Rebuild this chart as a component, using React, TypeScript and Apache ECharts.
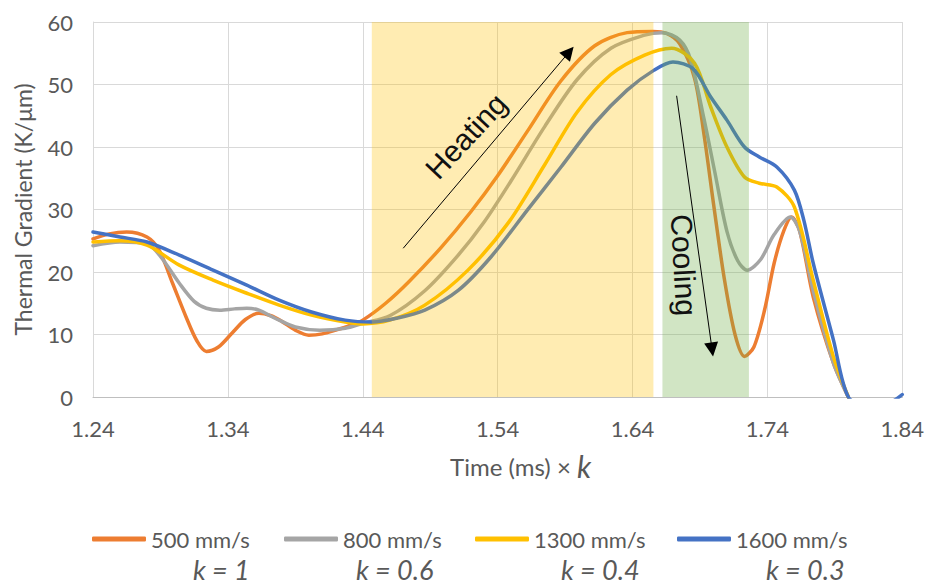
import React, { useEffect, useRef } from "react";
import * as echarts from "echarts";

const seriesNames = ["500 mm/s", "800 mm/s", "1300 mm/s", "1600 mm/s"];
const seriesColors = ["#ED7D31", "#A5A5A5", "#FFC000", "#4472C4"];
const kLabels = ["k = 1", "k = 0.6", "k = 0.4", "k = 0.3"];

// 500 mm/s (k = 1)
const t500 = [1.24, 1.252, 1.265, 1.28, 1.289, 1.299, 1.309, 1.317, 1.324, 1.333, 1.343, 1.353, 1.363, 1.372, 1.38, 1.39, 1.4, 1.41, 1.42, 1.43, 1.44, 1.457, 1.474, 1.498, 1.52, 1.54, 1.562, 1.587, 1.612, 1.636, 1.655, 1.665, 1.675, 1.686, 1.693, 1.7, 1.708, 1.716, 1.723, 1.73, 1.738, 1.745, 1.752, 1.758, 1.764, 1.774, 1.789, 1.8];
const v500 = [25.3, 26.1, 26.4, 25.6, 23.5, 18.2, 12.8, 9.0, 7.3, 8.0, 10.2, 12.4, 13.4, 13.0, 12.1, 10.7, 9.9, 10.1, 10.7, 11.4, 12.3, 15.0, 18.4, 23.9, 29.6, 35.4, 42.5, 50.6, 56.2, 58.3, 58.5, 58.2, 56.5, 51.0, 42.0, 31.0, 19.0, 10.0, 6.5, 8.0, 14.0, 21.4, 26.5, 28.8, 26.5, 16.0, 5.4, 0];

// 800 mm/s (k = 0.6)
const t800 = [1.24, 1.26, 1.28, 1.29, 1.304, 1.315, 1.324, 1.334, 1.345, 1.354, 1.363, 1.375, 1.39, 1.408, 1.427, 1.44, 1.46, 1.486, 1.51, 1.53, 1.55, 1.575, 1.599, 1.624, 1.649, 1.662, 1.675, 1.683, 1.693, 1.701, 1.71, 1.718, 1.725, 1.735, 1.745, 1.757, 1.764, 1.774, 1.789, 1.8];
const v800 = [24.2, 24.8, 24.5, 22.5, 18.2, 15.3, 14.2, 13.9, 14.1, 14.2, 13.9, 12.6, 11.2, 10.7, 11.0, 11.8, 13.0, 17.0, 22.5, 28.0, 34.6, 43.3, 50.8, 55.8, 57.9, 58.3, 57.1, 54.0, 44.5, 36.0, 26.5, 21.8, 20.3, 22.0, 26.0, 28.8, 26.5, 17.0, 5.4, 0];

// 1300 mm/s (k = 0.4)
const t1300 = [1.24, 1.26, 1.28, 1.304, 1.329, 1.354, 1.378, 1.402, 1.427, 1.44, 1.46, 1.486, 1.518, 1.548, 1.575, 1.599, 1.624, 1.649, 1.669, 1.686, 1.698, 1.71, 1.723, 1.734, 1.747, 1.76, 1.774, 1.789, 1.8];
const v1300 = [24.8, 25.0, 24.3, 21.1, 18.7, 16.6, 14.7, 13.1, 12.0, 11.7, 12.3, 14.7, 20.3, 27.9, 37.2, 45.6, 51.6, 54.7, 55.8, 53.4, 46.4, 40.0, 35.2, 34.2, 33.6, 30.4, 18.7, 6.4, 0];

// 1600 mm/s (k = 0.3)
const t1600 = [1.24, 1.26, 1.28, 1.304, 1.329, 1.354, 1.378, 1.402, 1.427, 1.447, 1.465, 1.486, 1.511, 1.535, 1.562, 1.587, 1.612, 1.636, 1.656, 1.67, 1.685, 1.698, 1.71, 1.723, 1.734, 1.747, 1.76, 1.767, 1.774, 1.789, 1.8, 1.815, 1.83, 1.84];
const v1600 = [26.4, 25.6, 24.8, 22.7, 20.3, 17.9, 15.5, 13.6, 12.3, 12.0, 12.6, 13.9, 17.1, 22.4, 29.9, 36.8, 43.8, 49.1, 52.3, 53.6, 52.5, 48.0, 44.3, 40.0, 38.4, 36.8, 33.1, 28.3, 21.4, 9.1, 0, -1.5, -1.0, 0.4];

const seriesTimes = [t500, t800, t1300, t1600];
const seriesValues = [v500, v800, v1300, v1600];

const xMin = 1.24;
const xMax = 1.84;
const xStep = 0.1;
const yMin = 0;
const yMax = 60;
const yStep = 10;

const heatingSpan = [1.4467, 1.6555];
const coolingSpan = [1.6622, 1.7263];
const heatingArrow = [[1.47, 23.8], [1.593, 55.2]];
const coolingArrow = [[1.6727, 48.2], [1.699, 7.6]];

export default function App() {
  const ref = useRef<HTMLDivElement>(null);
  useEffect(() => {
    document.body.style.margin = "0";
    const chart = echarts.init(ref.current!, null, { renderer: "svg" });
    const grey = "#595959";
    const lines: any[] = seriesNames.map((name, i) => ({
      name,
      type: "line",
      data: seriesTimes[i].map((t, j) => [t, seriesValues[i][j]]),
      smooth: 0.3,
      symbol: "none",
      showSymbol: false,
      clip: true,
      z: 2,
      lineStyle: { width: 3.5, color: seriesColors[i], cap: "round", join: "round" },
      itemStyle: { color: seriesColors[i] },
    }));
    lines.push({
      type: "line",
      name: "shade",
      data: [],
      z: 5,
      silent: true,
      markArea: {
        z: 3,
        silent: true,
        data: [
          [
            { xAxis: heatingSpan[0], yAxis: yMax, itemStyle: { color: "rgba(255,192,0,0.3)" } },
            { xAxis: heatingSpan[1], yAxis: yMin },
          ],
          [
            { xAxis: coolingSpan[0], yAxis: yMax, itemStyle: { color: "rgba(112,173,71,0.32)" } },
            { xAxis: coolingSpan[1], yAxis: yMin },
          ],
        ],
      },
    });
    lines.push({
      type: "line",
      name: "arrows",
      data: [],
      z: 6,
      silent: true,
      markLine: {
        z: 6,
        silent: true,
        symbol: ["none", "triangle"],
        symbolSize: 14,
        label: { show: false },
        lineStyle: { color: "#000", width: 1, type: "solid" },
        data: [
          [{ coord: heatingArrow[0] }, { coord: heatingArrow[1] }],
          [{ coord: coolingArrow[0] }, { coord: coolingArrow[1] }],
        ],
      },
    });

    const legendLefts = [87, 279, 470, 672];
    const kLefts = [193, 356, 561, 766];

    chart.setOption({
      animation: false,
      backgroundColor: "#fff",
      grid: { left: 93, right: 21, top: 22, bottom: 188, containLabel: false },
      legend: seriesNames.map((n, i) => ({
        data: [n],
        left: legendLefts[i],
        top: 523,
        itemWidth: 54,
        itemHeight: 5,
        icon: "roundRect",
        selectedMode: false,
        textStyle: { fontFamily: "Lato", fontSize: 22, color: grey },
      })),
      xAxis: {
        type: "value",
        min: xMin,
        max: xMax,
        interval: xStep,
        name: "Time (ms) × {k|k}",
        nameLocation: "middle",
        nameGap: 54,
        nameTextStyle: {
          fontFamily: "Lato",
          fontSize: 24,
          color: grey,
          padding: [0, 0, 0, 46],
          rich: { k: { fontFamily: "Lato", fontStyle: "italic", fontSize: 30, color: grey } },
        },
        axisLine: { show: true, lineStyle: { color: "#BFBFBF", width: 1 } },
        axisTick: { show: false },
        axisLabel: {
          margin: 20,
          fontFamily: "Lato",
          fontSize: 22,
          color: grey,
          formatter: (v: number) => v.toFixed(2),
        },
        splitLine: { show: true, lineStyle: { color: "#D9D9D9", width: 1 } },
      },
      yAxis: {
        type: "value",
        min: yMin,
        max: yMax,
        interval: yStep,
        name: "Thermal Gradient (K/μm)",
        nameLocation: "middle",
        nameGap: 59,
        nameTextStyle: { fontFamily: "Lato", fontSize: 23, color: grey },
        axisLine: { show: true, lineStyle: { color: "#D9D9D9", width: 1 } },
        axisTick: { show: false },
        axisLabel: { margin: 20, fontFamily: "Lato", fontSize: 22, color: grey },
        splitLine: { show: true, lineStyle: { color: "#D9D9D9", width: 1 } },
      },
      series: lines,
      graphic: [
        {
          type: "text",
          x: 466,
          y: 136,
          rotation: (47 * Math.PI) / 180,
          z: 20,
          style: {
            text: "Heating",
            fontFamily: "'Liberation Sans', Arial, sans-serif",
            fontSize: 30,
            fill: "#111",
            align: "center",
            verticalAlign: "middle",
          },
        },
        {
          type: "text",
          x: 684,
          y: 265,
          rotation: (-87 * Math.PI) / 180,
          z: 20,
          style: {
            text: "Cooling",
            fontFamily: "'Liberation Sans', Arial, sans-serif",
            fontSize: 30,
            fill: "#111",
            align: "center",
            verticalAlign: "middle",
          },
        },
        ...kLabels.map((s, i) => ({
          type: "text",
          x: kLefts[i],
          y: 583,
          z: 20,
          style: {
            text: s,
            fontFamily: "Lato",
            fontStyle: "italic",
            fontSize: 27,
            fill: grey,
            align: "left",
            verticalAlign: "bottom",
          },
        })),
      ],
    });
    return () => chart.dispose();
  }, []);
  return <div ref={ref} style={{ width: 927, height: 585 }} />;
}
